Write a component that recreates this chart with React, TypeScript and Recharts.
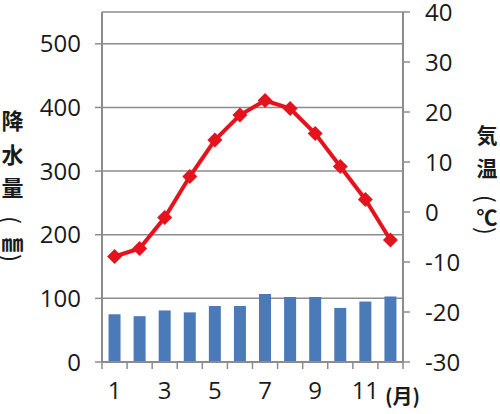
import { ComposedChart, Bar, Line, XAxis, YAxis, CartesianGrid } from 'recharts';

// monthly climate values
const MONTHS = [1, 2, 3, 4, 5, 6, 7, 8, 9, 10, 11, 12];
const PRECIP = [75, 72, 81, 78, 88, 88, 107, 102, 102, 85, 95, 103]; // mm
const TEMP = [-8.9, -7.3, -1.1, 7.1, 14.4, 19.4, 22.3, 20.7, 15.7, 9.1, 2.5, -5.6]; // °C

const PRECIP_TICKS = [0, 100, 200, 300, 400, 500];
const TEMP_TICKS = [-30, -20, -10, 0, 10, 20, 30, 40];

const LEFT_TITLE = ['降', '水', '量', '(', '㎜', ')'];
const RIGHT_TITLE = ['気', '温', '(', '℃', ')'];

const BLUE = '#4a7ab8';
const RED = '#e5131d';
const AXIS = '#8c8c8c';
const TEXT = '#1a1a1a';
const NUM_FONT = '"Open Sans", sans-serif';
const JP_FONT = '"Noto Sans CJK JP", sans-serif';

const TICK_SIZE = 7;
const X_TICK_MARGIN = 13;

const data = MONTHS.map((m, i) => ({ month: m, precip: PRECIP[i], temp: TEMP[i] }));

const Diamond = (props: any) => {
  const { cx, cy } = props;
  if (cx == null || cy == null) return null;
  const r = 7.5;
  return <path d={`M${cx},${cy - r}L${cx + r},${cy}L${cx},${cy + r}L${cx - r},${cy}Z`} fill={RED} />;
};

// tick lines sit on the category boundaries, labels on every other month
const MonthTick = (props: any) => {
  const { x, y, payload, index, visibleTicksCount } = props;
  const half = payload && payload.offset ? payload.offset : 12.54;
  const y0 = y - TICK_SIZE - X_TICK_MARGIN;
  return (
    <g>
      <line x1={x - half} x2={x - half} y1={y0} y2={y0 + TICK_SIZE} stroke={AXIS} strokeWidth={1.5} />
      {index === visibleTicksCount - 1 && (
        <line x1={x + half} x2={x + half} y1={y0} y2={y0 + TICK_SIZE} stroke={AXIS} strokeWidth={1.5} />
      )}
      {index % 2 === 0 && (
        <text x={x} y={y} dy="0.71em" textAnchor="middle" fill={TEXT} fontSize={24} fontFamily={NUM_FONT}>
          {payload.value}
        </text>
      )}
    </g>
  );
};

// stacked glyphs; brackets are turned a quarter so they read vertically
const VerticalTitle = ({ chars, x, ys, size }: { chars: string[]; x: number; ys: number[]; size: number }) => (
  <>
    {chars.map((c, i) => {
      const bracket = c === '(' || c === ')';
      return (
        <text
          key={i}
          transform={`translate(${x} ${ys[i]})${bracket ? ' rotate(90)' : ''}`}
          textAnchor="middle"
          dominantBaseline="central"
          fontSize={bracket ? size + 2 : size}
          fontWeight={bracket ? 400 : 700}
          fontFamily={JP_FONT}
          fill={TEXT}
        >
          {c}
        </text>
      );
    })}
  </>
);

export default function App() {
  return (
    <div style={{ position: 'fixed', left: 0, top: 0, width: 500, height: 414, background: '#fff' }}>
      <ComposedChart width={500} height={414} data={data} margin={{ top: 12, right: 0, left: 0, bottom: 0 }} barCategoryGap="26%">
        <CartesianGrid yAxisId="p" vertical={false} stroke={AXIS} strokeWidth={1.5} />
        <XAxis
          dataKey="month"
          height={52}
          interval={0}
          axisLine={{ stroke: AXIS, strokeWidth: 2 }}
          tickLine={false}
          tickSize={TICK_SIZE}
          tickMargin={X_TICK_MARGIN}
          tick={<MonthTick />}
        />
        <YAxis
          yAxisId="p"
          orientation="left"
          width={102}
          domain={[0, 550]}
          ticks={PRECIP_TICKS}
          interval={0}
          axisLine={{ stroke: AXIS, strokeWidth: 2 }}
          tickLine={{ stroke: AXIS, strokeWidth: 1.5 }}
          tickSize={TICK_SIZE}
          tickMargin={14}
          tick={{ fill: TEXT, fontSize: 24, fontFamily: NUM_FONT }}
        />
        <YAxis
          yAxisId="t"
          orientation="right"
          width={97}
          domain={[-30, 40]}
          ticks={TEMP_TICKS}
          interval={0}
          axisLine={{ stroke: AXIS, strokeWidth: 2 }}
          tickLine={{ stroke: AXIS, strokeWidth: 1.5 }}
          tickSize={TICK_SIZE}
          tickMargin={15}
          tick={{ fill: TEXT, fontSize: 24, fontFamily: NUM_FONT }}
        />
        <Bar yAxisId="p" dataKey="precip" fill={BLUE} isAnimationActive={false} />
        <Line
          yAxisId="t"
          dataKey="temp"
          type="linear"
          stroke={RED}
          strokeWidth={4}
          dot={<Diamond />}
          activeDot={false}
          isAnimationActive={false}
        />
      </ComposedChart>
      <svg width={500} height={414} style={{ position: 'absolute', left: 0, top: 0, pointerEvents: 'none' }}>
        <VerticalTitle chars={LEFT_TITLE} x={12.5} ys={[119, 153, 186, 220, 241, 258]} size={22} />
        <VerticalTitle chars={RIGHT_TITLE} x={487} ys={[134, 167, 199, 216, 231]} size={21} />
        <text x={385} y={395} dominantBaseline="central" fontSize={20} fontWeight={700} fontFamily={JP_FONT} fill={TEXT}>
          (月)
        </text>
      </svg>
    </div>
  );
}
